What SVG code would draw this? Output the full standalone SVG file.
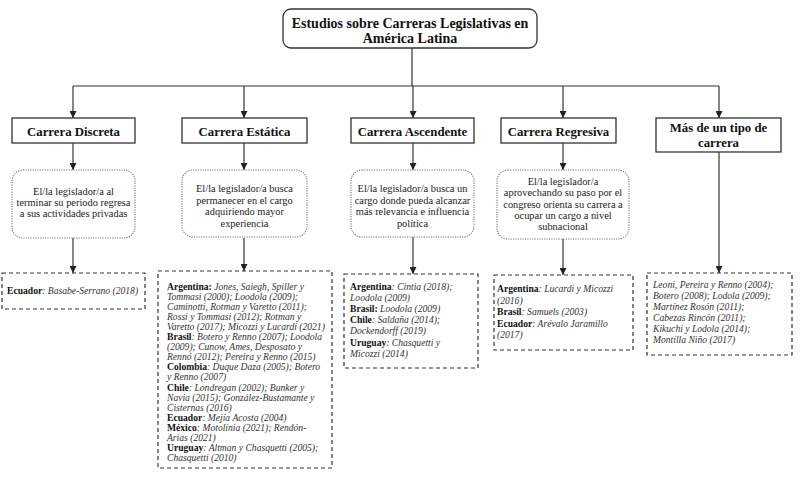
<svg xmlns="http://www.w3.org/2000/svg" width="800" height="484" viewBox="0 0 800 484">
<defs>
<marker id="arr" viewBox="0 0 10 10" refX="10" refY="5" markerWidth="7" markerHeight="7" markerUnits="userSpaceOnUse" orient="auto">
<path d="M0,0 L10,5 L0,10 z" fill="#222"/>
</marker>
<style>
.title{font-family:"Liberation Serif",serif;font-weight:bold;font-size:14px;fill:#111;text-anchor:middle}
.cat{font-family:"Liberation Serif",serif;font-weight:bold;font-size:12.8px;fill:#111;text-anchor:middle}
.desc{font-family:"Liberation Serif",serif;font-size:10.4px;fill:#222;text-anchor:middle}
.ref{font-family:"Liberation Serif",serif;font-size:9.6px;fill:#333;font-style:italic}
.ref .b{font-weight:bold;font-style:normal;fill:#111}
.box{fill:#fff;stroke:#333;stroke-width:1.3}
.dbox{fill:#fff;stroke:#777;stroke-width:1.1;stroke-dasharray:1.2 1.2}
.rbox{fill:#fff;stroke:#333;stroke-width:1.2;stroke-dasharray:4 3}
.ln{fill:none;stroke:#333;stroke-width:1.2}
</style>
</defs>
<rect width="800" height="484" fill="#fff"/>
<g id="connectors">
<path class="ln" d="M412,48 V86 M73,86 H719"/>
<path class="ln" d="M73,86 V118" marker-end="url(#arr)"/>
<path class="ln" d="M244,86 V118" marker-end="url(#arr)"/>
<path class="ln" d="M413,86 V118" marker-end="url(#arr)"/>
<path class="ln" d="M563,86 V118" marker-end="url(#arr)"/>
<path class="ln" d="M719,86 V118" marker-end="url(#arr)"/>
<path class="ln" d="M73,143 V170" marker-end="url(#arr)"/>
<path class="ln" d="M244,143 V170" marker-end="url(#arr)"/>
<path class="ln" d="M413,143 V170" marker-end="url(#arr)"/>
<path class="ln" d="M563,143 V170" marker-end="url(#arr)"/>
<path class="ln" d="M73,238 V273" marker-end="url(#arr)"/>
<path class="ln" d="M244,238 V271" marker-end="url(#arr)"/>
<path class="ln" d="M413,237 V274" marker-end="url(#arr)"/>
<path class="ln" d="M563,239 V275" marker-end="url(#arr)"/>
<path class="ln" d="M719,152 V273" marker-end="url(#arr)"/>
</g>
<g id="title">
<rect class="box" x="283" y="9" width="254" height="39" rx="8"/>
<text class="title" x="410" y="28">Estudios sobre Carreras Legislativas en</text>
<text class="title" x="410" y="43">América Latina</text>
</g>
<g id="cat-discreta">
<rect class="box" x="12" y="118" width="123" height="25"/>
<text class="cat" x="73.5" y="135.5">Carrera Discreta</text>
</g>
<g id="cat-estatica">
<rect class="box" x="182" y="118" width="125" height="25"/>
<text class="cat" x="244.5" y="135.5">Carrera Estática</text>
</g>
<g id="cat-ascendente">
<rect class="box" x="351" y="118" width="123" height="25"/>
<text class="cat" x="412.5" y="135.5">Carrera Ascendente</text>
</g>
<g id="cat-regresiva">
<rect class="box" x="501" y="118" width="115" height="25"/>
<text class="cat" x="558.5" y="135.5">Carrera Regresiva</text>
</g>
<g id="cat-mas">
<rect class="box" x="656" y="118" width="125" height="34"/>
<text class="cat" x="718.5" y="132">Más de un tipo de</text>
<text class="cat" x="718.5" y="147">carrera</text>
</g>
<g id="desc-discreta">
<rect class="dbox" x="12" y="170" width="123" height="68" rx="11"/>
<text class="desc" x="73.5" y="195">El/la legislador/a al</text>
<text class="desc" x="73.5" y="206">terminar su periodo regresa</text>
<text class="desc" x="73.5" y="217">a sus actividades privadas</text>
</g>
<g id="desc-estatica">
<rect class="dbox" x="182" y="170" width="125" height="67" rx="11"/>
<text class="desc" x="244.5" y="192">El/la legislador/a busca</text>
<text class="desc" x="244.5" y="203.5">permanecer en el cargo</text>
<text class="desc" x="244.5" y="215">adquiriendo mayor</text>
<text class="desc" x="244.5" y="226.5">experiencia</text>
</g>
<g id="desc-ascendente">
<rect class="dbox" x="351" y="170" width="123" height="67" rx="11"/>
<text class="desc" x="412.5" y="192">El/la legislador/a busca un</text>
<text class="desc" x="412.5" y="203.5">cargo donde pueda alcanzar</text>
<text class="desc" x="412.5" y="215">más relevancia e influencia</text>
<text class="desc" x="412.5" y="226.5">política</text>
</g>
<g id="desc-regresiva">
<rect class="dbox" x="497" y="170" width="132" height="69" rx="11"/>
<text class="desc" x="563" y="185">El/la legislador/a</text>
<text class="desc" x="563" y="196.3">aprovechando su paso por el</text>
<text class="desc" x="563" y="207.6">congreso orienta su carrera a</text>
<text class="desc" x="563" y="218.9">ocupar un cargo a nivel</text>
<text class="desc" x="563" y="230.2">subnacional</text>
</g>
<g id="ref-discreta">
<rect class="rbox" x="2" y="273" width="143" height="36"/>
<text class="ref" x="7" y="294"><tspan class="b">Ecuador</tspan>: Basabe-Serrano (2018)</text>
</g>
<g id="ref-estatica">
<rect class="rbox" x="158" y="271" width="174" height="197"/>
<text class="ref" x="167" y="289.5"><tspan class="b">Argentina:</tspan> Jones, Saiegh, Spiller y</text>
<text class="ref" x="167" y="299.6">Tommasi (2000); Loodola (2009);</text>
<text class="ref" x="167" y="309.7">Caminotti, Rotman y Varetto (2011);</text>
<text class="ref" x="167" y="319.8">Rossi y Tommasi (2012); Rotman y</text>
<text class="ref" x="167" y="329.9">Varetto (2017); Micozzi y Lucardi (2021)</text>
<text class="ref" x="167" y="340"><tspan class="b">Brasil</tspan>: Botero y Renno (2007); Loodola</text>
<text class="ref" x="167" y="350.1">(2009); Cunow, Ames, Desposato y</text>
<text class="ref" x="167" y="360.2">Rennó (2012); Pereira y Renno (2015)</text>
<text class="ref" x="167" y="370.3"><tspan class="b">Colombia</tspan>: Duque Daza (2005); Botero</text>
<text class="ref" x="167" y="380.4">y Renno (2007)</text>
<text class="ref" x="167" y="390.5"><tspan class="b">Chile</tspan>: Londregan (2002); Bunker y</text>
<text class="ref" x="167" y="400.6">Navia (2015); González-Bustamante y</text>
<text class="ref" x="167" y="410.7">Cisternas (2016)</text>
<text class="ref" x="167" y="420.8"><tspan class="b">Ecuador</tspan>: Mejía Acosta (2004)</text>
<text class="ref" x="167" y="430.9"><tspan class="b">México</tspan>: Motolinia (2021); Rendón-</text>
<text class="ref" x="167" y="441">Arias (2021)</text>
<text class="ref" x="167" y="451.1"><tspan class="b">Uruguay</tspan>: Altman y Chasquetti (2005);</text>
<text class="ref" x="167" y="461.2">Chasquetti (2010)</text>
</g>
<g id="ref-ascendente">
<rect class="rbox" x="344" y="274" width="134" height="94"/>
<text class="ref" x="350" y="289.5"><tspan class="b">Argentina</tspan>: Cintia (2018);</text>
<text class="ref" x="350" y="300.7">Loodola (2009)</text>
<text class="ref" x="350" y="311.9"><tspan class="b">Brasil:</tspan> Loodola (2009)</text>
<text class="ref" x="350" y="323.1"><tspan class="b">Chile</tspan>: Saldaña (2014);</text>
<text class="ref" x="350" y="334.3">Dockendorff (2019)</text>
<text class="ref" x="350" y="345.5"><tspan class="b">Uruguay</tspan>: Chasquetti y</text>
<text class="ref" x="350" y="356.7">Micozzi (2014)</text>
</g>
<g id="ref-regresiva">
<rect class="rbox" x="494" y="275" width="139" height="75"/>
<text class="ref" x="497" y="292"><tspan class="b">Argentina</tspan>: Lucardi y Micozzi</text>
<text class="ref" x="497" y="303.5">(2016)</text>
<text class="ref" x="497" y="315"><tspan class="b">Brasil</tspan>: Samuels (2003)</text>
<text class="ref" x="497" y="326.5"><tspan class="b">Ecuador</tspan>: Arévalo Jaramillo</text>
<text class="ref" x="497" y="338">(2017)</text>
</g>
<g id="ref-mas">
<rect class="rbox" x="647" y="273" width="145" height="82"/>
<text class="ref" x="653" y="288">Leoni, Pereira y Renno (2004);</text>
<text class="ref" x="653" y="299">Botero (2008); Lodola (2009);</text>
<text class="ref" x="653" y="310">Martínez Rosón (2011);</text>
<text class="ref" x="653" y="321">Cabezas Rincón (2011);</text>
<text class="ref" x="653" y="332">Kikuchi y Lodola (2014);</text>
<text class="ref" x="653" y="343">Montilla Niño (2017)</text>
</g>
</svg>
